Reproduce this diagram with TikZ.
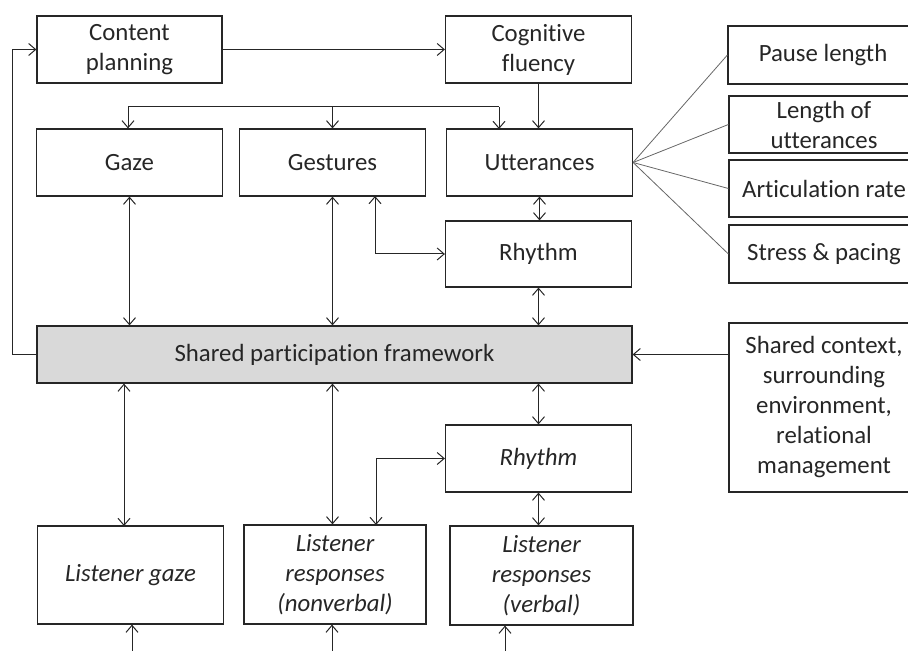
\documentclass[tikz,border=0pt]{standalone}
\usepackage{fontspec}
\setmainfont{Carlito}[Ligatures = NoCommon]
\usetikzlibrary{arrows.meta}

\begin{document}
\begin{tikzpicture}[x = 0.5pt, y = -0.5pt, line width = 0.5pt, color = black!85,
  >={Straight Barb[length = 3.5pt, width = 6pt]},
  box/.style = {draw, line width = 0.6pt, align = center, inner sep = 0pt, minimum width = 93pt, minimum height = 33.5pt, font = \fontsize{12.4}{15}\selectfont},
  listener/.style = {box, font = \fontsize{12.4}{15}\selectfont\itshape},
  feature/.style = {draw = black!60, line width = 0.4pt}]
\useasboundingbox (0,0) rectangle (908,651);

\node[box, minimum width = 92.5pt] (plan) at (129.5,49.5) {Content\\planning};
\node[box] (cogn) at (538.5,49.5) {Cognitive\\fluency};
\node[box] (gaze) at (129.5,162.5) {Gaze};
\node[box] (gest) at (332.5,162.5) {Gestures};
\node[box] (utt) at (539.5,162.5) {Utterances};
\node[box, minimum height = 33pt] (rhy) at (538.5,254) {Rhythm};
\node[box, fill = gray!30, minimum width = 297.5pt, minimum height = 28.5pt] (shared) at (334.5,354.5) {Shared participation framework};
\node[listener] (rhy2) at (538.5,458.5) {Rhythm};
\node[listener, minimum height = 49pt] (lgaze) at (130.5,575) {Listener gaze};
\node[listener, minimum width = 91pt, minimum height = 49.5pt] (lnon) at (335,574.5) {Listener\\responses\\(nonverbal)};
\node[listener, minimum width = 91.5pt, minimum height = 49.5pt] (lverb) at (541.5,575.5) {Listener\\responses\\(verbal)};

\node[box, minimum width = 95pt, minimum height = 29pt] (pause) at (823,55) {Pause length};
\node[box, minimum width = 95pt, minimum height = 28.5pt] (len) at (824,124.5) {Length of\\utterances};
\node[box, minimum width = 95pt, minimum height = 28.5pt] (art) at (824,188.5) {Articulation rate};
\node[box, minimum width = 95pt, minimum height = 29pt] (stress) at (824,254) {Stress \& pacing};
\node[box, minimum width = 95pt, minimum height = 84.5pt] (ctx) at (824,407.5) {Shared context,\\surrounding\\environment,\\relational\\management};

\draw[->] (plan) -- (cogn);
\draw[->] (cogn.south) -- (cogn.south |- utt.north);

\coordinate (bus) at (128,107);
\coordinate (uttin) at (499,129);
\draw (bus) -- (bus -| uttin);
\draw[->] (bus) -- (bus |- gaze.north);
\draw[->] (bus -| gest.north) -- (gest.north);
\draw[->] (bus -| uttin) -- (uttin);

\draw[<->] (utt.south) -- (utt.south |- rhy.north);
\draw[<->] (rhy.south) -- (rhy.south |- shared.north);
\draw[<->] (gaze.south) -- (gaze.south |- shared.north);
\draw[<->] (gest.south) -- (gest.south |- shared.north);
\coordinate (gestout) at (375,196);
\draw[<->] (gestout) |- (rhy.west);

\draw[->] (shared.west) -- ++(-24,0) |- (plan.west);
\draw[->] (ctx.west |- shared.east) -- (shared.east);
\foreach \f in {pause, len, art, stress}
  \draw[feature] (utt.east) -- (\f.west);

\coordinate (lgazein) at (124,526);
\draw[<->] (lgazein |- shared.south) -- (lgazein);
\draw[<->] (gest.south |- shared.south) -- (gest.south |- lnon.north);
\coordinate (lnonout) at (376,525);
\draw[<->] (lnonout) |- (rhy2.west);
\draw[<->] (rhy.south |- shared.south) -- (rhy.south |- rhy2.north);
\draw[<->] (rhy2.south) -- (rhy2.south |- lverb.north);

\coordinate (bottom) at (0,660);
\foreach \b/\x in {lgaze/132, lnon/332, lverb/505} {
  \coordinate (in) at (\x,0);
  \draw[->] (in |- bottom) -- (in |- \b.south);
}
\end{tikzpicture}
\end{document}
